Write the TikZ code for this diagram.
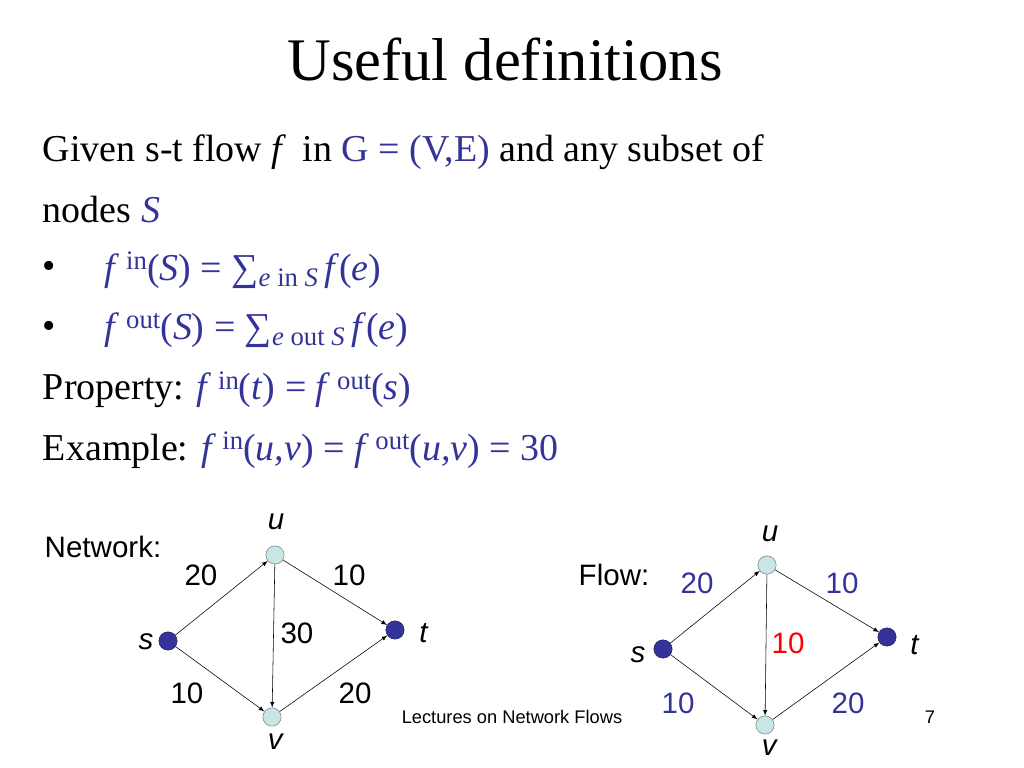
\documentclass[tikz,border=0pt]{standalone}
\usepackage{fontspec}
\setmainfont{Liberation Serif}
\setsansfont{Liberation Sans}
\definecolor{slblue}{RGB}{51,51,153}
\definecolor{lightnode}{RGB}{200,230,230}
\newcommand{\lowidx}[1]{\raisebox{-0.35ex}{\fontsize{19}{19}\selectfont #1}}
\newcommand{\highidx}[1]{\raisebox{0.6ex}{\fontsize{19}{19}\selectfont #1}}
\tikzset{
  vlight/.style={circle,draw=gray,fill=lightnode,inner sep=0pt,minimum size=13pt},
  vdark/.style={circle,draw=slblue!70!black,fill=slblue,inner sep=0pt,minimum size=13pt},
  lab/.style={font=\sffamily\fontsize{21}{21}\selectfont},
  graphcap/.style={font=\sffamily\fontsize{21}{21}\selectfont},
  body/.style={anchor=west,font=\fontsize{27}{27}\selectfont},
  arc/.style={-latex,thin}
}
\begin{document}
\begin{tikzpicture}[x=0.025cm,y=-0.025cm]
\useasboundingbox (0,0) rectangle (1024,768);
\node[font=\fontsize{43}{43}\selectfont] (title) at (505,60) {Useful definitions};
\node[body] (l1) at (38,152) {Given s-t flow \textit{f}\, in \textcolor{slblue}{G = (V,E)} and any subset of};
\node[body] (l2) at (38,210) {nodes \textcolor{slblue}{\textit{S}}};
\node[body] (b1) at (38,270) {\textbullet};
\node[body,text=slblue] (l3) at (100,270) {\textit{f}\,\highidx{in}(\textit{S}) = ∑\lowidx{\textit{e} in \textit{S}}\,\textit{f}(\textit{e})};
\node[body] (b2) at (38,330) {\textbullet};
\node[body,text=slblue] (l4) at (100,330) {\textit{f}\,\highidx{out}(\textit{S}) = ∑\lowidx{\textit{e} out \textit{S}}\,\textit{f}(\textit{e})};
\node[body] (l5) at (38,390) {Property: \textcolor{slblue}{\textit{f}\,\highidx{in}(\textit{t}) = \textit{f}\,\highidx{out}(\textit{s})}};
\node[body] (l6) at (38,450) {Example: \textcolor{slblue}{\textit{f}\,\highidx{in}(\textit{u,v}) = \textit{f}\,\highidx{out}(\textit{u,v}) = 30}};

% network
\node[graphcap] (net) at (103,547) {Network:};
\node[vlight] (nu) at (275,555) {};
\node[vdark] (ns) at (168,641) {};
\node[vdark] (nt) at (395,630) {};
\node[vlight] (nv) at (272,717) {};
\node[lab] at (276,522) {\textit{u}};
\node[lab] at (276,742) {\textit{v}};
\node[lab] at (146,642) {\textit{s}};
\node[lab] at (424,633) {\textit{t}};
\draw[arc] (ns) -- (nu);
\draw[arc] (ns) -- (nv);
\draw[arc] (nu) -- (nt);
\draw[arc] (nv) -- (nt);
\draw[arc] (nu) -- (nv);
\node[lab] at (201,575) {20};
\node[lab] at (349,575) {10};
\node[lab] at (297,633) {30};
\node[lab] at (187,693) {10};
\node[lab] at (355,693) {20};

% flow
\node[graphcap] (flw) at (614,575) {Flow:};
\node[vlight] (fu) at (767,565) {};
\node[vdark] (fs) at (663,649) {};
\node[vdark] (ft) at (887,637) {};
\node[vlight] (fv) at (765,725) {};
\node[lab] at (770,534) {\textit{u}};
\node[lab] at (770,748) {\textit{v}};
\node[lab] at (638,655) {\textit{s}};
\node[lab] at (915,645) {\textit{t}};
\draw[arc] (fs) -- (fu);
\draw[arc] (fs) -- (fv);
\draw[arc] (fu) -- (ft);
\draw[arc] (fv) -- (ft);
\draw[arc] (fu) -- (fv);
\node[lab,text=slblue] at (697,583) {20};
\node[lab,text=slblue] at (842,583) {10};
\node[lab,text=red] at (788,643) {10};
\node[lab,text=slblue] at (678,703) {10};
\node[lab,text=slblue] at (848,703) {20};

\node[font=\sffamily\fontsize{13}{13}\selectfont] (foot) at (512,717) {Lectures on Network Flows};
\node[font=\sffamily\fontsize{13}{13}\selectfont] (pg) at (930,717) {7};
\end{tikzpicture}
\end{document}
